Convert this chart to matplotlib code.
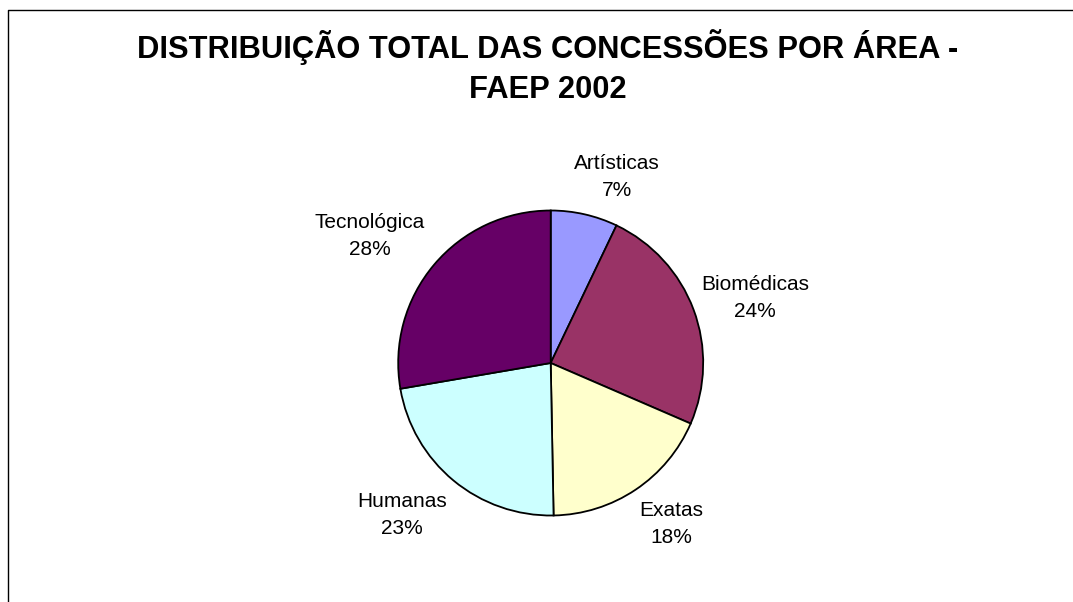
import matplotlib
matplotlib.use("Agg")
import matplotlib.pyplot as plt
from matplotlib.lines import Line2D

# dados (percentual por área)
areas = ["Artísticas", "Biomédicas", "Exatas", "Humanas", "Tecnológica"]
valores = [7.1, 24.4, 18.2, 22.6, 27.7]
cores = ["#9999FF", "#993366", "#FFFFCC", "#CCFFFF", "#660066"]

titulo = "DISTRIBUIÇÃO TOTAL DAS CONCESSÕES POR ÁREA -\nFAEP 2002"

W, H = 1073, 602
plt.rcParams['font.family'] = ['Liberation Sans', 'DejaVu Sans']

fig = plt.figure(figsize=(W / 100, H / 100), dpi=100)
ax = fig.add_axes([0, 0, 1, 1])

# pizza no sentido horário começando no topo
centro = (550.7, H - 363)
raio = 152.5
wedges, _ = ax.pie(valores, colors=cores, startangle=90, counterclock=False,
                   center=centro, radius=raio,
                   wedgeprops=dict(edgecolor='black', linewidth=1.3))

# posição dos rótulos (em pixels da imagem)
pos_rotulos = [(617, 177), (755, 298), (671, 524), (402, 515), (370, 236)]
for nome, v, (x, y) in zip(areas, valores, pos_rotulos):
    ax.text(x, H - y, f"{nome}\n{round(v)}%", ha='center', va='center',
            fontsize=15, linespacing=1.5, multialignment='center')

ax.text(548, H - 67, titulo, ha='center', va='center', fontsize=22.2,
        fontweight='bold', linespacing=1.4, multialignment='center')

ax.set_xlim(0, W)
ax.set_ylim(0, H)
ax.set_aspect('equal')
ax.axis('off')

# moldura (só a esquerda e o topo aparecem)
fig.add_artist(Line2D([8 / W, 8 / W, 1], [0, 1 - 10 / H, 1 - 10 / H],
                      transform=fig.transFigure, color='black', linewidth=1.0))

fig.savefig("out.png", dpi=100)
